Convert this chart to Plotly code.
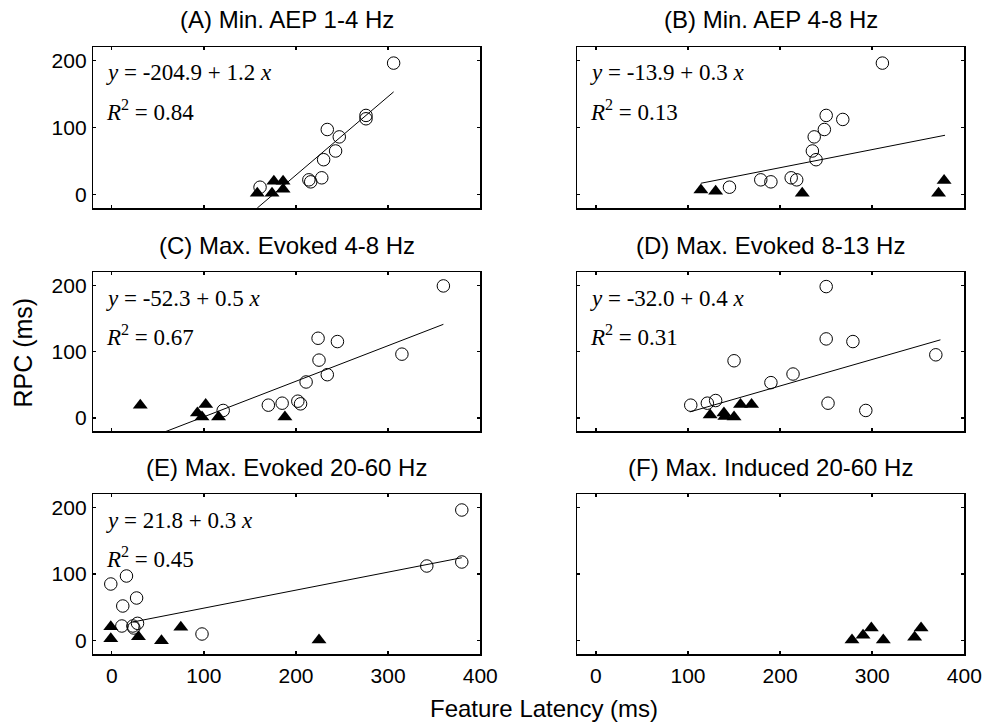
import plotly.graph_objects as go

# ---------------- data ----------------
titles = ["(A) Min. AEP 1-4 Hz", "(B) Min. AEP 4-8 Hz",
          "(C) Max. Evoked 4-8 Hz", "(D) Max. Evoked 8-13 Hz",
          "(E) Max. Evoked 20-60 Hz", "(F) Max. Induced 20-60 Hz"]

# open circles (x = feature latency, y = RPC)
circ_x_A = [306, 276, 276, 234, 247, 243, 230, 228, 214, 216, 161]
circ_y_A = [196, 118, 113, 97, 86, 65, 52, 25, 22, 19, 11]
circ_x_B = [311, 250, 268, 248, 237, 235, 239, 212, 218, 179, 190, 145]
circ_y_B = [196, 118, 112, 97, 86, 65, 52, 25, 22, 22, 19, 11]
circ_x_C = [360, 315, 224, 245, 225, 234, 211, 202, 205, 185, 170, 121]
circ_y_C = [199, 96, 120, 115, 87, 65, 54, 25, 21, 22, 19, 11]
circ_x_D = [250, 250, 279, 369, 150, 214, 190, 130, 121, 103, 252, 293]
circ_y_D = [198, 119, 115, 95, 86, 66, 53, 26, 22, 19, 22, 11]
circ_x_E = [380, 380, 342, 16, -1, 27, 12, 28, 11, 24, 23, 98]
circ_y_E = [196, 118, 112, 97, 85, 64, 52, 26, 22, 19, 22, 10]
circ_x_F = []
circ_y_F = []

# filled triangles
tri_x_A = [158, 176, 186, 174, 186]
tri_y_A = [2, 20, 20, 2, 8]
tri_x_B = [114, 130, 224, 378, 372]
tri_y_B = [7, 5, 2, 21, 2]
tri_x_C = [31, 102, 93, 98, 116, 188]
tri_y_C = [19, 20, 7, 1, 1, 1]
tri_x_D = [124, 139, 140, 150, 157, 169]
tri_y_D = [4, 7, 2, 1, 20, 20]
tri_x_E = [-1, -1, 29, 54, 75, 225]
tri_y_E = [21, 3, 6, 0, 20, 1]
tri_x_F = [278, 290, 299, 312, 346, 353]
tri_y_F = [1, 8, 19, 1, 5, 19]

# regression fits (intercept, slope, R^2, x-span of the drawn line)
fit_intercept = [-204.9, -13.9, -52.3, -32.0, 21.8]
fit_slope = [1.17, 0.27, 0.537, 0.40, 0.27]
fit_r2 = [0.84, 0.13, 0.67, 0.31, 0.45]
fit_x_start = [158, 114, 31, 102, 23]
fit_x_end = [306, 379, 360, 374, 380]

x_ticks = [0, 100, 200, 300, 400]
y_ticks = [0, 100, 200]
x_range = [-20, 400]
y_range = [-20, 220]

circ_x = [circ_x_A, circ_x_B, circ_x_C, circ_x_D, circ_x_E, circ_x_F]
circ_y = [circ_y_A, circ_y_B, circ_y_C, circ_y_D, circ_y_E, circ_y_F]
tri_x = [tri_x_A, tri_x_B, tri_x_C, tri_x_D, tri_x_E, tri_x_F]
tri_y = [tri_y_A, tri_y_B, tri_y_C, tri_y_D, tri_y_E, tri_y_F]

# ---------------- layout geometry (page pixels) ----------------
FW, FH = 1003, 727
col_px = [(95, 489), (588, 982)]
row_px = [(47, 208), (272, 431), (494, 654)]


def px(xp):
    return xp / FW


def py(yp):
    return 1 - yp / FH


SANS = "Liberation Sans, Arial, sans-serif"
SERIF = "Liberation Serif, Times New Roman, serif"

fig = go.Figure()
annotations = []

for i in range(6):
    r, c = divmod(i, 2)
    n = i + 1
    xa = "x" if n == 1 else f"x{n}"
    ya = "y" if n == 1 else f"y{n}"
    x0, x1 = col_px[c]
    t0, t1 = row_px[r]
    xdom = [px(x0), px(x1)]
    ydom = [py(t1), py(t0)]

    axis_common = dict(showline=True, linecolor="black", linewidth=1.5,
                       mirror="ticks", ticks="inside", ticklen=3, tickwidth=1.5,
                       tickcolor="black", showgrid=False, zeroline=False,
                       tickfont=dict(family=SANS, size=21, color="black"))
    fig.layout[("xaxis" if n == 1 else f"xaxis{n}")] = dict(
        domain=xdom, anchor=ya, range=x_range, tickvals=x_ticks,
        showticklabels=(r == 2), ticklabelstandoff=2, **axis_common)
    fig.layout[("yaxis" if n == 1 else f"yaxis{n}")] = dict(
        domain=ydom, anchor=xa, range=y_range, tickvals=y_ticks,
        showticklabels=(c == 0), ticklabelstandoff=1, **axis_common)

    # regression line
    if i < 5:
        lx = [fit_x_start[i], fit_x_end[i]]
        ly = [fit_intercept[i] + fit_slope[i] * v for v in lx]
        fig.add_trace(go.Scatter(x=lx, y=ly, mode="lines",
                                 line=dict(color="black", width=1),
                                 xaxis=xa, yaxis=ya, showlegend=False,
                                 hoverinfo="skip"))
    # triangles
    fig.add_trace(go.Scatter(x=tri_x[i], y=tri_y[i], mode="markers",
                             marker=dict(symbol="triangle-up", size=13,
                                         color="black", line=dict(width=0)),
                             xaxis=xa, yaxis=ya, showlegend=False,
                             cliponaxis=False))
    # circles
    if circ_x[i]:
        fig.add_trace(go.Scatter(x=circ_x[i], y=circ_y[i], mode="markers",
                                 marker=dict(symbol="circle-open", size=12.5,
                                             color="black", line=dict(width=1)),
                                 xaxis=xa, yaxis=ya, showlegend=False,
                                 cliponaxis=False))

    # subplot title
    annotations.append(dict(text=titles[i], xref="paper", yref="paper",
                            x=px((x0 + x1) / 2), y=py(t0 - 27),
                            xanchor="center", yanchor="middle", showarrow=False,
                            font=dict(family=SANS, size=24, color="black")))

    # equation text
    if i < 5:
        sign = "+" if fit_slope[i] >= 0 else "-"
        eq = (f"<i>y</i> = {fit_intercept[i]:.1f} {sign} "
              f"{abs(fit_slope[i]):.1f} <i>x</i>")
        annotations.append(dict(text=eq, xref="paper", yref="paper",
                                x=px(x0 + 11), y=py(t0 + 26),
                                xanchor="left", yanchor="middle", showarrow=False,
                                font=dict(family=SERIF, size=23, color="black")))
        annotations.append(dict(text=f"<i>R</i><sup>2</sup> = {fit_r2[i]:.2f}",
                                xref="paper", yref="paper",
                                x=px(x0 + 11), y=py(t0 + 63),
                                xanchor="left", yanchor="middle", showarrow=False,
                                font=dict(family=SERIF, size=23, color="black")))

# axis titles
annotations.append(dict(text="Feature Latency (ms)", xref="paper", yref="paper",
                        x=px(554), y=py(708), xanchor="center",
                        yanchor="middle", showarrow=False,
                        font=dict(family=SANS, size=24, color="black")))
annotations.append(dict(text="RPC (ms)", xref="paper", yref="paper",
                        x=px(23), y=py(353), xanchor="center",
                        yanchor="middle", showarrow=False, textangle=-90,
                        font=dict(family=SANS, size=25, color="black")))

fig.update_layout(width=FW, height=FH, margin=dict(l=0, r=0, t=0, b=0),
                  paper_bgcolor="white", plot_bgcolor="white",
                  hovermode=False,
                  annotations=annotations, showlegend=False)

fig.write_html("out.html",
               config={"displayModeBar": False, "staticPlot": True},
               post_script="document.body.style.margin='0';"
                           "document.body.style.overflow='hidden';")
